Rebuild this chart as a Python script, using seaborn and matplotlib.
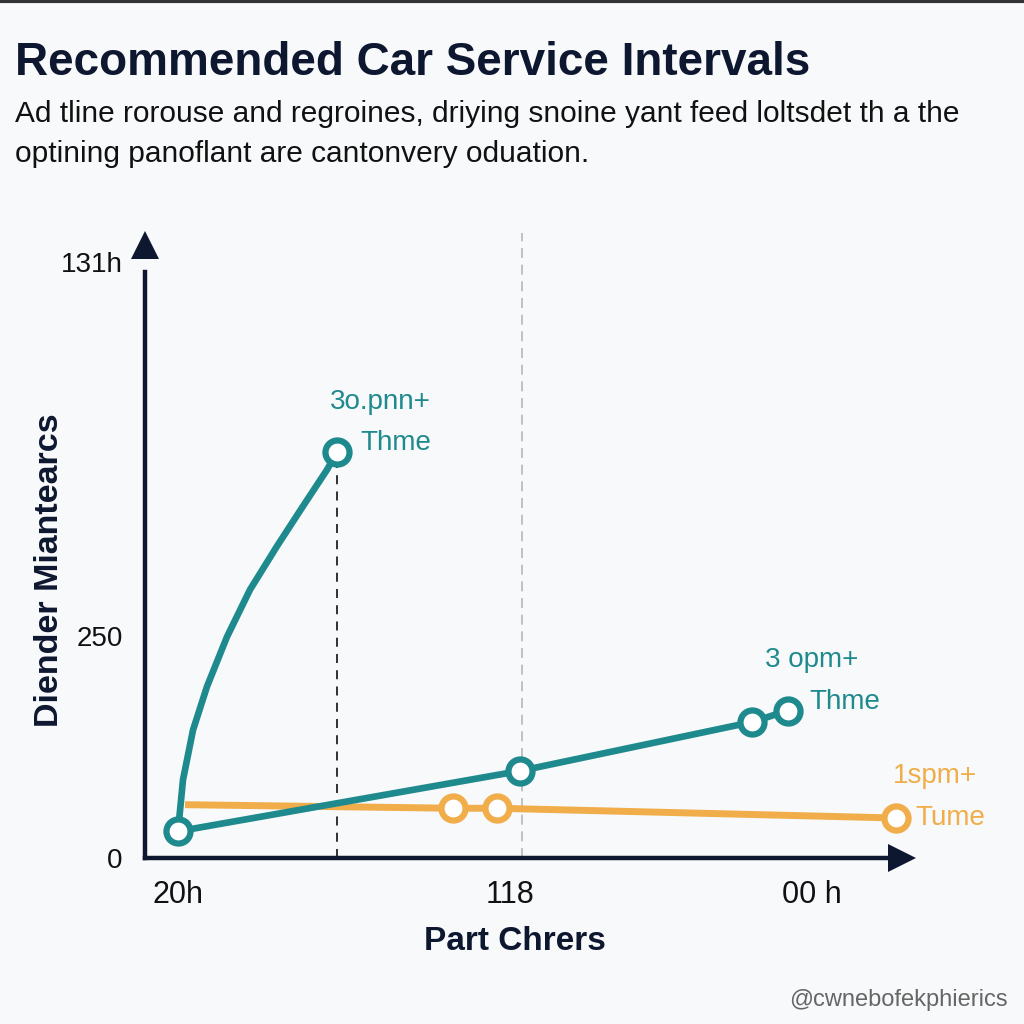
import numpy as np
import pandas as pd
import matplotlib
matplotlib.use("Agg")
import matplotlib.pyplot as plt
import seaborn as sns
from matplotlib.lines import Line2D

# 数据
curve_x = [33, 38, 48, 62, 82, 105, 132, 158, 182, 192]
curve_y = [30, 88, 144, 193, 249, 302, 351, 396, 437, 457]
teal_x = [33, 375, 607, 643]
teal_y = [30, 98, 153, 166]
orange_x = [40, 308, 352, 751]
orange_y = [60, 56, 56, 45]

x_ticks = [33, 365, 667]
x_tick_labels = ["20h", "118", "00 h"]
y_ticks = [0, 250, 671]
y_tick_labels = ["0", "250", "131h"]

TEAL = "#1F8A8E"
ORANGE = "#F0AD4A"
NAVY = "#0E1730"
BG = "#F8F9FA"

sns.set_style("white")
plt.rcParams["font.family"] = ["Liberation Sans", "DejaVu Sans"]

fig = plt.figure(figsize=(10.24, 10.24), dpi=100, facecolor=BG)
ax = fig.add_axes([145 / 1024, 166 / 1024, 770 / 1024, 613 / 1024])
ax.set_facecolor(BG)

curve = pd.DataFrame({"x": curve_x, "y": curve_y})
teal = pd.DataFrame({"x": teal_x, "y": teal_y})
orange = pd.DataFrame({"x": orange_x, "y": orange_y})

# guide lines
ax.axvline(377, color="#B8B8B8", lw=1.2, ls=(0, (6, 4)), zorder=1, ymax=1.02,
           clip_on=False)
ax.plot([curve_x[-1], curve_x[-1]], [0, curve_y[-1]], color="#222222",
        lw=1.3, ls=(0, (5, 4)), zorder=1)

# lines
sns.lineplot(data=orange, x="x", y="y", color=ORANGE, lw=5, sort=False,
             estimator=None, ax=ax, zorder=2, solid_capstyle="butt")
sns.lineplot(data=teal, x="x", y="y", color=TEAL, lw=4.8, sort=False,
             estimator=None, ax=ax, zorder=3)
sns.lineplot(data=curve, x="x", y="y", color=TEAL, lw=4.8, sort=False,
             estimator=None, ax=ax, zorder=3)

# open markers
mk = dict(s=300, facecolor="white", linewidth=4.5, zorder=5, ax=ax, legend=False)
sns.scatterplot(data=orange.iloc[1:], x="x", y="y", edgecolor=ORANGE, **mk)
sns.scatterplot(data=teal, x="x", y="y", edgecolor=TEAL, **mk)
sns.scatterplot(data=curve.iloc[[-1]], x="x", y="y", edgecolor=TEAL, **mk)

ax.set_xlim(0, 770)
ax.set_ylim(0, 690)

# axes styling
for s in ["top", "right"]:
    ax.spines[s].set_visible(False)
for s in ["left", "bottom"]:
    ax.spines[s].set_color(NAVY)
    ax.spines[s].set_linewidth(3.2)
ax.spines["left"].set_bounds(0, 660)
ax.spines["bottom"].set_bounds(0, 750)
ax.plot([0], [690], marker="^", ms=20, color=NAVY, clip_on=False, zorder=6,
        markeredgewidth=0)
ax.plot([757], [0], marker=">", ms=20, color=NAVY, clip_on=False, zorder=6,
        markeredgewidth=0)

ax.set_xticks(x_ticks)
ax.set_xticklabels(x_tick_labels)
ax.set_yticks(y_ticks)
ax.set_yticklabels(y_tick_labels)
ax.set_yticks([250], minor=True)
ax.tick_params(axis="x", length=13, width=4, color=NAVY, pad=3,
               labelsize=22, labelcolor="#111111")
ax.tick_params(axis="y", which="major", length=0, pad=16, labelsize=20,
               labelcolor="#111111")
ax.tick_params(axis="y", which="minor", length=10, width=4, color=NAVY, left=True)
ax.set_xlabel("")
ax.set_ylabel("")

# annotations
ann = dict(fontsize=20, ha="center", va="center")
ax.text(235, 513, "3o.pnn+", color=TEAL, **ann)
ax.text(251, 467, "Thme", color=TEAL, **ann)
ax.text(667, 223, "3 opm+", color=TEAL, **ann)
ax.text(700, 176, "Thme", color=TEAL, **ann)
ax.text(790, 92, "1spm+", color=ORANGE, **ann)
ax.text(805, 45, "Tume", color=ORANGE, **ann)

# titles and labels
fig.text(15 / 1024, 1 - 63 / 1024, "Recommended Car Service Intervals",
         fontsize=33, fontweight="bold", color=NAVY, ha="left", va="center")
fig.text(15 / 1024, 1 - 114 / 1024,
         "Ad tline rorouse and regroines, driying snoine yant feed loltsdet th a the",
         fontsize=21.5, color="#111111", ha="left", va="center")
fig.text(15 / 1024, 1 - 154 / 1024, "optining panoflant are cantonvery oduation.",
         fontsize=21.5, color="#111111", ha="left", va="center")
fig.text(50 / 1024, 1 - 570 / 1024, "Diender Miantearcs", rotation=90,
         fontsize=24.5, fontweight="bold", color=NAVY, ha="center", va="center")
fig.text(515 / 1024, 1 - 942 / 1024, "Part Chrers",
         fontsize=24, fontweight="bold", color=NAVY, ha="center", va="center")
fig.text(1008 / 1024, 1 - 1000 / 1024, "@cwnebofekphierics",
         fontsize=17, color="#666666", ha="right", va="center")

# top border
fig.add_artist(Line2D([0, 1], [0.999, 0.999], color="#333333", lw=3,
                      transform=fig.transFigure))

fig.savefig("out.png", dpi=100, facecolor=BG)
